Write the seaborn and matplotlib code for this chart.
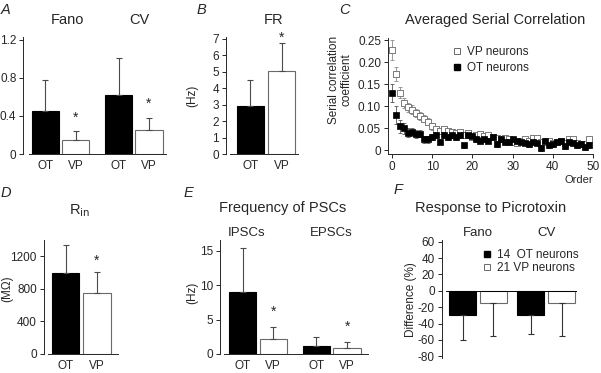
import numpy as np
import pandas as pd
import seaborn as sns
import matplotlib.pyplot as plt
from matplotlib.lines import Line2D

# --- data ---
groups = ['OT', 'VP']

# A: Fano / CV
a_measures = ['Fano', 'CV']
a_means = {'OT': [0.45, 0.62], 'VP': [0.15, 0.25]}
a_errs = {'OT': [0.33, 0.39], 'VP': [0.09, 0.13]}
a_stars = [0.385, 0.53]

# B: firing rate (Hz)
b_means = [2.9, 5.05]
b_errs = [1.6, 1.7]
b_star = 7.05

# C: serial correlation (order 0..49)
orders = list(range(50))
vp_corr = [0.228, 0.173, 0.131, 0.108, 0.098, 0.092, 0.085, 0.078, 0.072, 0.065,
           0.055, 0.048, 0.045, 0.048, 0.045, 0.042, 0.040, 0.042, 0.035, 0.040,
           0.030, 0.035, 0.038, 0.033, 0.035, 0.030, 0.028, 0.025, 0.028, 0.025,
           0.020, 0.018, 0.022, 0.025, 0.022, 0.028, 0.028, 0.020, 0.020, 0.022,
           0.018, 0.020, 0.022, 0.018, 0.025, 0.025, 0.018, 0.015, 0.015, 0.025]
vp_err = [0.022, 0.016, 0.012, 0.011, 0.010, 0.010, 0.009, 0.009, 0.008, 0.008,
          0.008, 0.007, 0.007, 0.007, 0.007, 0.007, 0.007, 0.007, 0.006, 0.007,
          0.006, 0.006, 0.006, 0.006, 0.006, 0.006, 0.006, 0.006, 0.006, 0.006,
          0.006, 0.006, 0.006, 0.006, 0.006, 0.006, 0.006, 0.006, 0.006, 0.006,
          0.006, 0.006, 0.006, 0.006, 0.006, 0.006, 0.006, 0.006, 0.006, 0.006]
ot_corr = [0.130, 0.080, 0.055, 0.050, 0.040, 0.042, 0.038, 0.038, 0.025, 0.025,
           0.030, 0.035, 0.020, 0.035, 0.030, 0.035, 0.030, 0.035, 0.012, 0.035,
           0.032, 0.025, 0.022, 0.025, 0.022, 0.030, 0.015, 0.025, 0.020, 0.020,
           0.025, 0.022, 0.020, 0.018, 0.015, 0.020, 0.018, 0.005, 0.022, 0.012,
           0.015, 0.020, 0.022, 0.010, 0.020, 0.018, 0.012, 0.015, 0.008, 0.012]
ot_err = [0.020, 0.020, 0.015, 0.012, 0.010, 0.010, 0.009, 0.008, 0.008, 0.007,
          0.007, 0.007, 0.006, 0.006, 0.006, 0.006, 0.006, 0.006, 0.006, 0.006,
          0.006, 0.006, 0.006, 0.006, 0.006, 0.006, 0.006, 0.006, 0.006, 0.006,
          0.006, 0.006, 0.006, 0.006, 0.006, 0.006, 0.006, 0.006, 0.006, 0.006,
          0.006, 0.006, 0.006, 0.006, 0.006, 0.006, 0.006, 0.006, 0.006, 0.006]

# D: input resistance (MOhm)
d_means = [1000, 750]
d_errs = [340, 260]
d_star = 1150

# E: PSC frequency (Hz)
e_types = ['IPSCs', 'EPSCs']
e_means = {'OT': [9.0, 1.2], 'VP': [2.2, 0.9]}
e_errs = {'OT': [6.5, 1.3], 'VP': [1.7, 0.9]}
e_stars = [6.1, 3.9]

# F: picrotoxin response (%)
f_measures = ['Fano', 'CV']
f_means = {'OT': [-30, -29], 'VP': [-15, -15]}
f_errs = {'OT': [30, 24], 'VP': [40, 40]}

sns.set_style('ticks')
plt.rcParams['font.family'] = ['Liberation Sans', 'DejaVu Sans']
plt.rcParams['axes.unicode_minus'] = False
plt.rcParams['font.size'] = 8.5
plt.rcParams['xtick.labelsize'] = 8.5
plt.rcParams['ytick.labelsize'] = 8.5
plt.rcParams['axes.linewidth'] = 0.7
plt.rcParams['xtick.major.width'] = 0.7
plt.rcParams['ytick.major.width'] = 0.7
plt.rcParams['ytick.major.size'] = 3

W, H = 601, 373
fig = plt.figure(figsize=(W / 100, H / 100), dpi=100)
palette = {'OT': 'black', 'VP': 'white'}
EDGE = '#6a6a6a'
TITLE = 10.5
SUB = 9.5


def px_axes(l, r, t, b):
    return fig.add_axes([l / W, 1 - b / H, (r - l) / W, (b - t) / H])


def ftext(x, y, s, **kw):
    fig.text(x / W, 1 - y / H, s, ha=kw.pop('ha', 'center'), va=kw.pop('va', 'center'), **kw)


def style_bar_axes(ax, outward=3):
    sns.despine(ax=ax)
    ax.spines['left'].set_position(('outward', outward))
    ax.tick_params(axis='x', length=0, pad=4)
    ax.tick_params(axis='y', length=3, pad=2)
    ax.set_xlabel('')
    ax.set_ylabel('')


def grouped_bars(ax, cats, means, errs, width, gap):
    rows = []
    for g in groups:
        for c, m, e in zip(cats, means[g], errs[g]):
            rows.append({'cat': c, 'group': g, 'value': m, 'err': e})
    df = pd.DataFrame(rows)
    sns.barplot(data=df, x='cat', y='value', hue='group', order=cats, hue_order=groups,
                palette=palette, width=width, gap=gap, errorbar=None, legend=False,
                edgecolor=EDGE, linewidth=0.8, ax=ax)
    centers = {}
    for g, cont in zip(groups, ax.containers):
        for c, bar in zip(cats, cont):
            if g == 'OT':
                bar.set_edgecolor('black')
            centers[(c, g)] = bar.get_x() + bar.get_width() / 2
    return df, centers


def simple_bars(ax, means, width):
    df = pd.DataFrame({'group': groups, 'value': means})
    sns.barplot(data=df, x='group', y='value', hue='group', order=groups, palette=palette,
                width=width, errorbar=None, legend=False, edgecolor=EDGE, linewidth=0.8, ax=ax)
    for bar, g in zip(ax.patches, groups):
        if g == 'OT':
            bar.set_edgecolor('black')
    return [b.get_x() + b.get_width() / 2 for b in ax.patches]


def up_err(ax, x, y, e):
    ax.errorbar(x, y, yerr=[[0], [e]], fmt='none', ecolor='#4a4a4a', elinewidth=0.8,
                capsize=2, capthick=0.8)


def star(ax, x, y):
    ax.text(x, y, '*', ha='center', va='center', fontsize=10)


# ---------- A ----------
axA = px_axes(29, 166, 37, 154)
dfA, cA = grouped_bars(axA, a_measures, a_means, a_errs, 0.83, 0.1)
for _, r in dfA.iterrows():
    up_err(axA, cA[(r['cat'], r['group'])], r['value'], r['err'])
for c, s in zip(a_measures, a_stars):
    star(axA, cA[(c, 'VP')], s)
axA.set_xlim(-0.43, 1.44)
axA.set_ylim(0, 1.23)
axA.set_yticks([0, 0.4, 0.8, 1.2])
axA.set_yticklabels(['0', '0.4', '0.8', '1.2'])
axA.set_xticks([cA[(c, g)] for c in a_measures for g in groups])
axA.set_xticklabels(groups * 2)
style_bar_axes(axA, 4)

# ---------- B ----------
axB = px_axes(230, 298, 37, 154)
cB = simple_bars(axB, b_means, 0.87)
for x, m, e in zip(cB, b_means, b_errs):
    up_err(axB, x, m, e)
star(axB, cB[1], b_star)
axB.set_xlim(-0.66, 1.53)
axB.set_ylim(0, 7.1)
axB.set_yticks(range(8))
style_bar_axes(axB, 3)

# ---------- C ----------
axC = px_axes(388, 593, 38, 154)
axC.errorbar(orders, vp_corr, yerr=vp_err, fmt='none', ecolor='#8a8a8a', elinewidth=0.6,
             capsize=1.5, capthick=0.6)
axC.errorbar(orders, ot_corr, yerr=ot_err, fmt='none', ecolor='#555555', elinewidth=0.6,
             capsize=1.5, capthick=0.6)
sns.scatterplot(x=orders, y=vp_corr, marker='s', s=20, color='white', edgecolor='#7a7a7a',
                linewidth=0.7, ax=axC, zorder=3)
sns.scatterplot(x=orders, y=ot_corr, marker='s', s=20, color='black', edgecolor='black',
                linewidth=0.5, ax=axC, zorder=4)
axC.set_xlim(-1, 50)
axC.set_ylim(-0.008, 0.255)
axC.set_xticks([0, 10, 20, 30, 40, 50])
axC.set_yticks([0, 0.05, 0.10, 0.15, 0.20, 0.25])
axC.set_yticklabels(['0', '0.05', '0.10', '0.15', '0.20', '0.25'])
sns.despine(ax=axC)
axC.tick_params(length=3, pad=2)
handles = [Line2D([], [], marker='s', ls='none', mfc='white', mec='#6a6a6a', ms=5, mew=0.7),
           Line2D([], [], marker='s', ls='none', mfc='black', mec='black', ms=5)]
axC.legend(handles, ['VP neurons', 'OT neurons'], loc='upper left',
           bbox_to_anchor=(445 / W, 1 - 40 / H), bbox_transform=fig.transFigure,
           frameon=False, fontsize=8.5, handletextpad=0.4, labelspacing=0.35,
           borderpad=0, handlelength=1.0)

# ---------- D ----------
axD = px_axes(48, 118, 240, 354)
cD = simple_bars(axD, d_means, 0.87)
for x, m, e in zip(cD, d_means, d_errs):
    up_err(axD, x, m, e)
star(axD, cD[1], d_star)
axD.set_xlim(-0.56, 1.67)
axD.set_ylim(0, 1400)
axD.set_yticks([0, 400, 800, 1200])
style_bar_axes(axD, 3)

# ---------- E ----------
axE = px_axes(224, 368, 240, 354)
dfE, cE = grouped_bars(axE, e_types, e_means, e_errs, 0.83, 0.1)
for _, r in dfE.iterrows():
    up_err(axE, cE[(r['cat'], r['group'])], r['value'], r['err'])
for c, s in zip(e_types, e_stars):
    star(axE, cE[(c, 'VP')], s)
axE.set_xlim(-0.46, 1.49)
axE.set_ylim(0, 16.6)
axE.set_yticks([0, 5, 10, 15])
axE.set_xticks([cE[(c, g)] for c in e_types for g in groups])
axE.set_xticklabels(groups * 2)
style_bar_axes(axE, 3)

# ---------- F ----------
axF = px_axes(446, 577, 240, 358)
dfF, cF = grouped_bars(axF, f_measures, f_means, f_errs, 0.9, 0.12)
for _, r in dfF.iterrows():
    x = cF[(r['cat'], r['group'])]
    axF.errorbar(x, r['value'], yerr=[[r['err']], [0]], fmt='none', ecolor='#333333',
                 elinewidth=0.8, capsize=2, capthick=0.8)
axF.axhline(0, color='black', lw=0.7)
axF.set_xlim(-0.47, 1.45)
axF.set_ylim(-82, 62)
axF.set_yticks(range(60, -81, -20))
axF.set_xticks([])
sns.despine(ax=axF, bottom=True)
axF.spines['left'].set_position(('outward', 3))
axF.tick_params(axis='y', length=3, pad=2)
axF.set_xlabel('')
axF.set_ylabel('')
handlesF = [Line2D([], [], marker='s', ls='none', mfc='black', mec='black', ms=5),
            Line2D([], [], marker='s', ls='none', mfc='white', mec='#6a6a6a', ms=5, mew=0.7)]
axF.legend(handlesF, ['14  OT neurons', '21 VP neurons'], loc='upper left',
           bbox_to_anchor=(475 / W, 1 - 243 / H), bbox_transform=fig.transFigure,
           frameon=False, fontsize=8.5, handletextpad=0.4, labelspacing=0.1,
           borderpad=0, handlelength=1.0)

# ---------- text ----------
for letter, (x, y) in zip('ABCDEF', [(6, 10), (201, 10), (344, 10), (6, 193), (188, 193), (398, 190)]):
    ftext(x, y, letter, fontsize=10.5, style='italic')
ftext(67, 20, 'Fano', fontsize=TITLE)
ftext(139, 20, 'CV', fontsize=TITLE)
ftext(274, 20, 'FR', fontsize=TITLE)
ftext(192, 96, '(Hz)', rotation=90)
ftext(495, 20, 'Averaged Serial Correlation', fontsize=TITLE)
ftext(340, 80, 'Serial correlation\ncoefficient', rotation=90, linespacing=1.0)
ftext(593, 180, 'Order', ha='right', fontsize=8)
ftext(80, 211, r'R$_{\mathrm{in}}$', fontsize=TITLE)
ftext(7, 289, '(M\u03a9)', rotation=90)
ftext(283, 208, 'Frequency of PSCs', fontsize=TITLE)
ftext(247, 233, 'IPSCs', fontsize=SUB)
ftext(331, 233, 'EPSCs', fontsize=SUB)
ftext(192, 293, '(Hz)', rotation=90)
ftext(491, 208, 'Response to Picrotoxin', fontsize=TITLE)
ftext(478, 233, 'Fano', fontsize=SUB)
ftext(547, 233, 'CV', fontsize=SUB)
ftext(411, 300, 'Difference (%)', rotation=90)

fig.savefig('out.png', dpi=100)
